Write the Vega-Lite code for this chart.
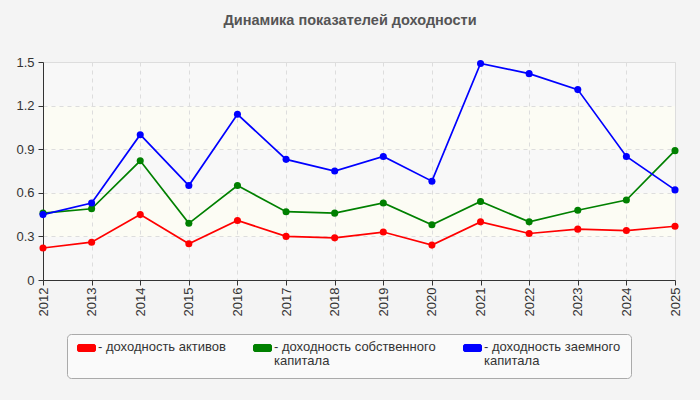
{
  "$schema": "https://vega.github.io/schema/vega-lite/v6.json",
  "width": 632,
  "height": 218,
  "autosize": {"type": "none"},
  "padding": {"left": 43, "top": 62, "right": 25, "bottom": 120},
  "background": "#f4f4f4",
  "title": {
    "text": "Динамика показателей доходности",
    "font": "Liberation Sans",
    "fontSize": 14.5,
    "fontWeight": "bold",
    "color": "#555555",
    "anchor": "middle",
    "dx": -9,
    "offset": 28
  },
  "data": {
    "values": [
      {"year": 2012, "series": "доходность активов", "value": 0.22},
      {"year": 2013, "series": "доходность активов", "value": 0.26},
      {"year": 2014, "series": "доходность активов", "value": 0.45},
      {"year": 2015, "series": "доходность активов", "value": 0.25},
      {"year": 2016, "series": "доходность активов", "value": 0.41},
      {"year": 2017, "series": "доходность активов", "value": 0.30},
      {"year": 2018, "series": "доходность активов", "value": 0.29},
      {"year": 2019, "series": "доходность активов", "value": 0.33},
      {"year": 2020, "series": "доходность активов", "value": 0.24},
      {"year": 2021, "series": "доходность активов", "value": 0.40},
      {"year": 2022, "series": "доходность активов", "value": 0.32},
      {"year": 2023, "series": "доходность активов", "value": 0.35},
      {"year": 2024, "series": "доходность активов", "value": 0.34},
      {"year": 2025, "series": "доходность активов", "value": 0.37},
      {"year": 2012, "series": "доходность собственного капитала", "value": 0.46},
      {"year": 2013, "series": "доходность собственного капитала", "value": 0.49},
      {"year": 2014, "series": "доходность собственного капитала", "value": 0.82},
      {"year": 2015, "series": "доходность собственного капитала", "value": 0.39},
      {"year": 2016, "series": "доходность собственного капитала", "value": 0.65},
      {"year": 2017, "series": "доходность собственного капитала", "value": 0.47},
      {"year": 2018, "series": "доходность собственного капитала", "value": 0.46},
      {"year": 2019, "series": "доходность собственного капитала", "value": 0.53},
      {"year": 2020, "series": "доходность собственного капитала", "value": 0.38},
      {"year": 2021, "series": "доходность собственного капитала", "value": 0.54},
      {"year": 2022, "series": "доходность собственного капитала", "value": 0.40},
      {"year": 2023, "series": "доходность собственного капитала", "value": 0.48},
      {"year": 2024, "series": "доходность собственного капитала", "value": 0.55},
      {"year": 2025, "series": "доходность собственного капитала", "value": 0.89},
      {"year": 2012, "series": "доходность заемного капитала", "value": 0.45},
      {"year": 2013, "series": "доходность заемного капитала", "value": 0.53},
      {"year": 2014, "series": "доходность заемного капитала", "value": 1.00},
      {"year": 2015, "series": "доходность заемного капитала", "value": 0.65},
      {"year": 2016, "series": "доходность заемного капитала", "value": 1.14},
      {"year": 2017, "series": "доходность заемного капитала", "value": 0.83},
      {"year": 2018, "series": "доходность заемного капитала", "value": 0.75},
      {"year": 2019, "series": "доходность заемного капитала", "value": 0.85},
      {"year": 2020, "series": "доходность заемного капитала", "value": 0.68},
      {"year": 2021, "series": "доходность заемного капитала", "value": 1.49},
      {"year": 2022, "series": "доходность заемного капитала", "value": 1.42},
      {"year": 2023, "series": "доходность заемного капитала", "value": 1.31},
      {"year": 2024, "series": "доходность заемного капитала", "value": 0.85},
      {"year": 2025, "series": "доходность заемного капитала", "value": 0.62}
    ]
  },
  "encoding": {
    "x": {
      "field": "year",
      "type": "quantitative",
      "scale": {"domain": [2012, 2025], "nice": false, "zero": false},
      "axis": {
        "values": [2012, 2013, 2014, 2015, 2016, 2017, 2018, 2019, 2020, 2021, 2022, 2023, 2024, 2025],
        "format": "d",
        "labelAngle": -90,
        "labelAlign": "right",
        "labelBaseline": "middle",
        "labelPadding": 2,
        "labelFlush": false,
        "labelOverlap": false
      }
    },
    "y": {
      "field": "value",
      "type": "quantitative",
      "scale": {"domain": [0, 1.5], "nice": false},
      "axis": {
        "values": [0, 0.3, 0.6, 0.9, 1.2, 1.5],
        "format": "~g",
        "labelPadding": 4
      }
    },
    "color": {
      "field": "series",
      "type": "nominal",
      "sort": null,
      "scale": {
        "domain": ["доходность активов", "доходность собственного капитала", "доходность заемного капитала"],
        "range": ["#ff0000", "#008000", "#0000ff"]
      },
      "legend": {
        "orient": "none",
        "legendX": 24,
        "legendY": 272,
        "direction": "horizontal",
        "title": null,
        "symbolType": "M-0.85,-0.39H0.85A0.15,0.15,0,0,1,1,-0.24V0.24A0.15,0.15,0,0,1,0.85,0.39H-0.85A0.15,0.15,0,0,1,-1,0.24V-0.24A0.15,0.15,0,0,1,-0.85,-0.39Z",
        "symbolSize": 324,
        "symbolStrokeColor": "#999999",
        "symbolStrokeWidth": 1,
        "symbolOpacity": 1,
        "labelFont": "Liberation Sans",
        "labelFontSize": 13,
        "labelColor": "#333333",
        "labelOffset": 2,
        "labelLimit": 400,
        "labelBaseline": "top",
        "columnPadding": 25,
        "padding": 10,
        "fillColor": "#fafafa",
        "strokeColor": "#aaaaaa",
        "cornerRadius": 4,
        "encode": {
          "symbols": {"update": {"y": {"value": 4}}},
          "labels": {"update": {"y": {"value": -3}, "lineHeight": {"value": 14}}}
        },
        "labelExpr": "datum.value === 'доходность активов' ? ['- доходность активов', ''] : datum.value === 'доходность собственного капитала' ? ['- доходность собственного', '\u00a0\u00a0капитала'] : ['- доходность заемного', '\u00a0\u00a0капитала']"
      }
    }
  },
  "layer": [
    {"mark": {"type": "line", "strokeWidth": 1.7}},
    {"mark": {"type": "point", "filled": true, "size": 50, "opacity": 1}}
  ],
  "config": {
    "view": {
      "stroke": "#dddddd",
      "fill": {
        "gradient": "linear",
        "x1": 0, "y1": 0, "x2": 0, "y2": 1,
        "stops": [
          {"offset": 0, "color": "#f8f8f8"},
          {"offset": 0.2, "color": "#f8f8f8"},
          {"offset": 0.2, "color": "#fcfcf4"},
          {"offset": 0.4, "color": "#fcfcf4"},
          {"offset": 0.4, "color": "#f8f8f8"},
          {"offset": 0.6, "color": "#f8f8f8"},
          {"offset": 0.6, "color": "#fcfcf4"},
          {"offset": 0.8, "color": "#fcfcf4"},
          {"offset": 0.8, "color": "#f8f8f8"},
          {"offset": 1, "color": "#f8f8f8"}
        ]
      }
    },
    "axis": {
      "title": null,
      "labelFont": "Liberation Sans",
      "labelFontSize": 13,
      "labelColor": "#333333",
      "domainColor": "#333333",
      "tickColor": "#333333",
      "tickSize": 5,
      "gridColor": "#dddddd",
      "gridDash": [4, 4]
    }
  }
}
